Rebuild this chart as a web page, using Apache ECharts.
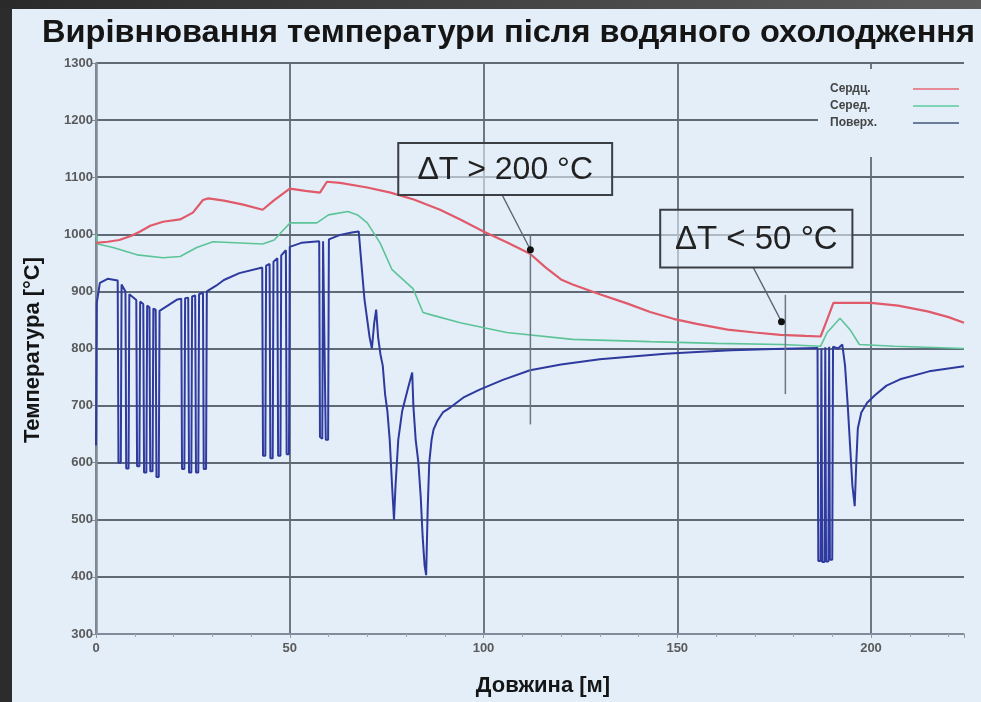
<!DOCTYPE html>
<html><head><meta charset="utf-8">
<script src="https://cdn.jsdelivr.net/npm/echarts/dist/echarts.min.js"></script>
<style>html,body{margin:0;padding:0;background:#e3eef9;}#c{width:981px;height:702px;}</style>
</head><body><div id="c"></div>
<script>
// ---- texts ----
const titleText = 'Вирівнювання температури після водяного охолодження';
const xName = 'Довжина [м]';
const yName = 'Температура [°C]';
const seriesNames = ['Сердц.', 'Серед.', 'Поверх.'];
// ---- axes ----
const xMin = 0, xMax = 224, xStep = 50;
const yMin = 300, yMax = 1300, yStep = 100;
// ---- series: [length m, temperature °C] ----
const coreData = [[0,985],[3,987],[6,990],[9,997],[11.4,1005],[14,1015],[17.3,1022],[21.7,1026],[25,1038],[27.6,1060],[29,1063],[33,1059],[38,1052],[43,1043],[46,1060],[50,1080],[54,1076],[57.8,1073],[59.6,1092],[63,1090],[70,1082],[76,1073],[82,1061],[88.8,1043],[94,1026],[100,1005],[106,986],[112,966],[116,942],[120,921],[123,912],[130,895],[137,879],[143,864],[149,852],[155,843],[163,833],[170,828],[176.6,824],[183,822],[187,821],[188.7,851],[190.3,880],[200,880],[207,875],[214.6,865],[220,855],[224,845]];
const middleData = [[0,1000],[0.4,983],[4.4,977],[10.6,964],[17.3,959],[21.7,961],[26,977],[30.2,987],[43,983],[46,990],[48,1005],[50.1,1020],[57,1020],[60,1034],[65,1040],[67.5,1034],[70,1020],[73.3,985],[76.4,938],[81.8,905],[84.4,863],[87,858],[94,845],[106,828],[123,816],[143,812],[160,809],[177,807],[187,804],[188.7,828],[192,853],[194.6,833],[197,807],[206,804],[224,800]];
const surfaceData = [[0,630],[0.2,880],[1,915],[3,922],[5.6,919],
[5.8,600],[6.4,600],[6.6,912],[7.6,900],
[7.8,590],[8.4,590],[8.6,895],[10.4,885],
[10.6,594],[11.2,594],[11.4,882],[12.2,878],
[12.4,583],[13.0,583],[13.2,875],[13.8,872],
[14.0,585],[14.6,585],[14.8,870],[15.4,868],
[15.6,575],[16.2,575],[16.4,866],
[18.5,875],[21,886],[22.0,887],
[22.2,589],[22.8,589],[23.0,888],[23.8,889],
[24.0,583],[24.6,583],[24.8,891],[25.6,893],
[25.8,583],[26.4,583],[26.6,895],[27.6,898],
[27.8,589],[28.4,589],[28.6,900],
[31,910],[33,920],[37,932],[42.9,942],
[43.1,612],[43.7,612],[43.9,945],[44.8,948],
[45.0,608],[45.6,608],[45.8,952],[46.8,958],
[47.0,612],[47.6,612],[47.8,963],[49.0,972],
[49.2,615],[49.8,615],[50.0,978],
[53,985],[57.6,988],
[57.8,645],[58.4,642],[58.6,988],[59.1,989],
[59.3,640],[59.9,640],[60.1,991],
[63,999],[66,1003],[67.8,1005],
[68.6,940],[69.3,885],[70.0,850],[70.6,820],[71.2,800],[71.8,845],[72.3,868],[72.8,820],[73.4,790],[74.0,770],[74.6,720],[75.2,690],[75.8,640],[76.4,560],[76.9,500],[77.3,560],[78.0,640],[79.0,690],[80.5,730],[81.6,758],[81.9,700],[82.5,640],[83.2,600],[83.8,540],[84.3,470],[84.8,420],[85.2,403],[85.6,520],[86.0,600],[86.6,640],[87.1,658],[88,672],[89.5,688],[91.5,697],[95,715],[99,728],[105,745],[112,762],[120,772],[130,781],[140,787],[147,791],[155,794],[164,797],[175,799],[186.2,801],
[186.4,428],[187.0,428],[187.2,800],
[187.4,426],[188.0,426],[188.2,802],
[188.4,427],[189.0,427],[189.2,803],
[189.4,430],[190.0,430],[190.2,803],
[191.5,800],[192.6,807],[193.3,770],[194.0,700],[194.6,630],[195.2,560],[195.8,524],[196.2,600],[196.6,660],[197.5,688],[199,705],[201,718],[204,735],[207.5,746],[215,760],[224,769]];
// ---- annotations (data coordinates) ----
const annoBoxes = [
  {text: 'ΔT > 200 °C', x: [78, 133.2], y: [1160, 1069], size: 32},
  {text: 'ΔT < 50 °C', x: [145.6, 195.2], y: [1043, 942], size: 33}
];
const annoDots = [[112.1, 973], [176.9, 847]];
const annoLeaders = [[[104.8, 1069], [112.1, 973]], [[169.6, 942], [176.9, 847]]];
const annoVerticals = [[112.1, 999, 667], [177.9, 894, 720]];

const FONT = '"Liberation Sans", Arial, sans-serif';
const seriesColors = ['#e05a6a', '#5cc496', '#2e3a9e'];
const legendColors = ['#e58a96', '#7fd4b6', '#6c7c98'];

const chart = echarts.init(document.getElementById('c'), null, {renderer: 'canvas'});

// stretch title to its width in the reference
const cv = document.createElement('canvas').getContext('2d');
cv.font = 'bold 31px ' + FONT;
const titleScale = 933 / cv.measureText(titleText).width;

const option = {
  animation: false,
  backgroundColor: '#e3eef9',
  grid: {left: 96, right: 17, top: 63, bottom: 68, containLabel: false},
  legend: {
    data: seriesNames.map((n, i) => ({name: n, itemStyle: {color: legendColors[i]}})),
    orient: 'vertical', left: 818, top: 69, align: 'right',
    icon: 'rect', itemWidth: 46, itemHeight: 2, itemGap: 5,
    backgroundColor: '#e3eef9',
    padding: [14, 10, 28, 12],
    formatter: '{a|{name}}',
    textStyle: {rich: {a: {width: 78, align: 'left', fontSize: 12, fontWeight: 'bold', color: '#444', fontFamily: FONT, lineHeight: 17}}}
  },
  xAxis: {
    type: 'value', min: xMin, max: xMax, interval: xStep,
    axisLine: {show: true, lineStyle: {color: '#8c98a6', width: 1.5}},
    axisTick: {show: true, length: 4, lineStyle: {color: '#8c98a6'}},
    minorTick: {show: true, splitNumber: 5, length: 3, lineStyle: {color: '#9aa6b3'}},
    axisLabel: {showMaxLabel: false, fontSize: 13, fontWeight: 'bold', color: '#5a5a5a', margin: 8, fontFamily: FONT},
    splitLine: {show: true, showMaxLine: false, lineStyle: {color: '#5f6a76', width: 1.8}}
  },
  yAxis: {
    type: 'value', min: yMin, max: yMax, interval: yStep,
    axisLine: {show: true, lineStyle: {color: '#7f8c99', width: 2.5}},
    axisTick: {show: true, length: 4, lineStyle: {color: '#7f8c99'}},
    axisLabel: {fontSize: 13, fontWeight: 'bold', color: '#5a5a5a', margin: 3, fontFamily: FONT,
      formatter: v => String(v)},
    splitLine: {show: true, lineStyle: {color: '#5f6a76', width: 2}}
  },
  series: [
    {name: seriesNames[2], type: 'line', data: surfaceData, showSymbol: false, z: 3,
     lineStyle: {color: seriesColors[2], width: 2}, itemStyle: {color: seriesColors[2]}},
    {name: seriesNames[1], type: 'line', data: middleData, showSymbol: false, z: 4,
     lineStyle: {color: seriesColors[1], width: 1.6}, itemStyle: {color: seriesColors[1]}},
    {name: seriesNames[0], type: 'line', data: coreData, showSymbol: false, z: 5,
     lineStyle: {color: seriesColors[0], width: 2.2}, itemStyle: {color: seriesColors[0]}}
  ]
};
chart.setOption(option);

const P = (x, y) => chart.convertToPixel({gridIndex: 0}, [x, y]);
const g = [];
// dark frame
g.push({type: 'rect', shape: {x: 0, y: 0, width: 12, height: 702}, style: {fill: '#2c2c2c'}, silent: true, z: 100});
g.push({type: 'rect', shape: {x: 0, y: 0, width: 981, height: 9}, silent: true, z: 100,
  style: {fill: new echarts.graphic.LinearGradient(0, 0, 1, 0, [{offset: 0, color: '#2a2a2a'}, {offset: 1, color: '#5c5c5c'}])}});
// title
g.push({type: 'text', x: 42, y: 33, scaleX: titleScale, z: 100,
  style: {text: titleText, font: 'bold 31px ' + FONT, fill: '#151515', textVerticalAlign: 'middle', textAlign: 'left'}});
// axis names
g.push({type: 'text', x: 543, y: 686, z: 100,
  style: {text: xName, font: 'bold 22px ' + FONT, fill: '#151515', textAlign: 'center', textVerticalAlign: 'middle'}});
g.push({type: 'text', x: 33, y: 350, rotation: Math.PI / 2, z: 100,
  style: {text: yName, font: 'bold 22px ' + FONT, fill: '#151515', textAlign: 'center', textVerticalAlign: 'middle'}});
// annotation verticals
annoVerticals.forEach(v => {
  const a = P(v[0], v[1]), b = P(v[0], v[2]);
  g.push({type: 'line', shape: {x1: a[0], y1: a[1], x2: b[0], y2: b[1]}, style: {stroke: '#6c7784', lineWidth: 1.5}, z: 50});
});
annoLeaders.forEach(l => {
  const a = P(l[0][0], l[0][1]), b = P(l[1][0], l[1][1]);
  g.push({type: 'line', shape: {x1: a[0], y1: a[1], x2: b[0], y2: b[1]}, style: {stroke: '#5a6470', lineWidth: 1.3}, z: 50});
});
annoDots.forEach(d => {
  const a = P(d[0], d[1]);
  g.push({type: 'circle', shape: {cx: a[0], cy: a[1], r: 3.5}, style: {fill: '#111'}, z: 52});
});
annoBoxes.forEach(bx => {
  const a = P(bx.x[0], bx.y[0]), b = P(bx.x[1], bx.y[1]);
  g.push({type: 'rect', shape: {x: a[0], y: a[1], width: b[0] - a[0], height: b[1] - a[1]},
    style: {fill: 'rgba(227,238,249,0.6)', stroke: '#3a3f45', lineWidth: 2}, z: 51});
  g.push({type: 'text', x: (a[0] + b[0]) / 2, y: (a[1] + b[1]) / 2 + 1, z: 52,
    style: {text: bx.text, font: bx.size + 'px ' + FONT, fill: '#222', textAlign: 'center', textVerticalAlign: 'middle'}});
});
chart.setOption({graphic: {elements: g}});
</script>
</body></html>
